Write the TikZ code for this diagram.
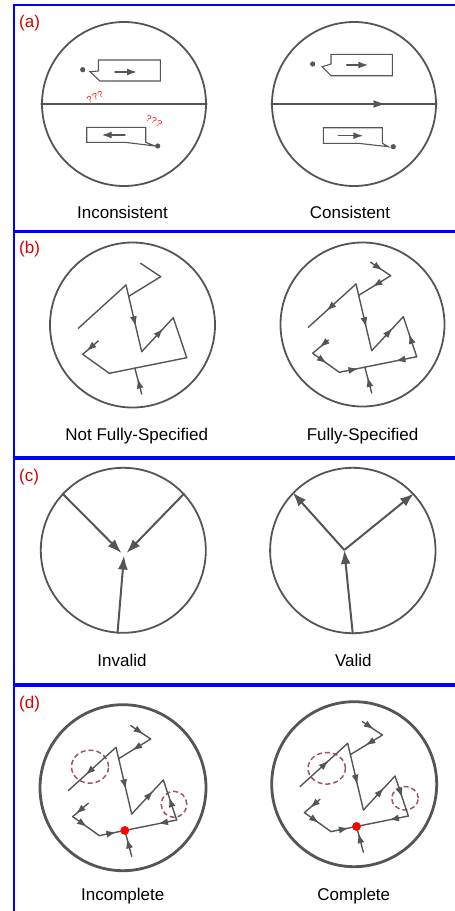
\documentclass[tikz,border=0pt]{standalone}
\usepackage{fontspec}
\newfontfamily\arial{Liberation Sans}
\usetikzlibrary{arrows.meta,decorations.markings,calc}
\definecolor{lg}{RGB}{85,85,85}
\definecolor{lblred}{RGB}{210,0,0}
\definecolor{dashc}{RGB}{160,80,120}
\definecolor{frameblue}{RGB}{0,0,255}
\newcommand\mkgraph[3]{%
  \begin{scope}[shift={(#2,#3)}]
    \coordinate (#1P1) at (8.2,-61.7);
    \coordinate (#1P2) at (28.2,-48.3);
    \coordinate (#1A) at (-6.5,-40);
    \coordinate (#1L) at (-54.2,3.3);
    \coordinate (#1V) at (9.2,26.7);
    \coordinate (#1R1) at (40.8,-7.3);
    \coordinate (#1R2) at (54.2,32.7);
    \coordinate (#1B1) at (-23.2,48.3);
    \coordinate (#1B2) at (-49.8,29.3);
    \coordinate (#1S) at (-34.2,16);
    \coordinate (#1T) at (9.2,69);
  \end{scope}
  \coordinate (#1P3) at ($(#1A)!0.17!(#1V)$);
  \coordinate (#1J) at ($(#1B1)!0.33!(#1R2)$);
}
\begin{document}
\begin{tikzpicture}[x=1pt,y=-1pt,
  frame/.style={draw=frameblue, line width=2pt},
  plab/.style={text=lblred, anchor=west, inner sep=0pt, font=\arial\fontsize{17}{20}\selectfont},
  capt/.style={anchor=base, inner sep=0pt, font=\arial\fontsize{17}{20}\selectfont},
  bigc/.style={circle, draw=lg, line width=1.8pt, minimum size=164pt, inner sep=0pt},
  bigcd/.style={circle, draw=lg, line width=2.8pt, minimum size=164pt, inner sep=0pt},
  ed/.style={lg, line width=1.4pt, line cap=round},
  boxl/.style={draw=lg, line width=1.1pt, line join=miter},
  qq/.style={text=red, inner sep=0pt, font=\arial\fontsize{9}{10}\selectfont\addfontfeatures{LetterSpace=10}},
  ma/.style={postaction={decorate, decoration={markings, mark=at position #1 with {\arrow{Latex[length=10pt,width=7pt]}}}}},
  mal/.style={postaction={decorate, decoration={markings, mark=at position #1 with {\arrow{Latex[length=12pt,width=8pt]}}}}},
  sar/.style={-{Latex[length=10pt,width=7pt]}},
  car/.style={lg, line width=2pt, -{Latex[length=14pt,width=10pt]}},
  dsh/.style={draw=dashc, line width=1.5pt, dash pattern=on 5pt off 3pt},
]
\fill[white] (0,0) rectangle (455,911);
\useasboundingbox (0,0) rectangle (455,911);
\clip (0,0) rectangle (455,911);

% frames
\draw[frame] (14,5.3) rectangle (470,231);
\draw[frame] (14,231.5) rectangle (470,456.7);
\draw[frame] (14,459.3) rectangle (470,683.5);
\draw[frame] (14,686) rectangle (470,930);
\node[plab] (la) at (19,22.7) {(a)};
\node[plab] (lb) at (19,249) {(b)};
\node[plab] (lc) at (19,476.7) {(c)};
\node[plab] (ld) at (19,704) {(d)};

% ---------- panel (a) ----------
\node[bigc] (aL) at (124,104) {};
\draw[ed] (aL.west) -- (aL.east);
\coordinate (aLd1) at (82.7,69.7);
\coordinate (aLd2) at (157.7,146);
\fill[lg] (aLd1) circle[radius=2.6pt];
\fill[lg] (aLd2) circle[radius=2.6pt];
\draw[boxl] (98.3,60) -- (160.3,60) -- (160.3,81) -- (100,81) -- (90,71.7) -- (98.3,71) -- cycle;
\coordinate (aLa1s) at (115,72); \coordinate (aLa1e) at (137,72);
\draw[ed, sar] (aLa1s) -- (aLa1e);
\draw[boxl] (86.7,127.3) -- (145.7,127.3) -- (145.7,142.3) -- (155,146) -- (125,142.3) -- (86.7,142.3) -- cycle;
\coordinate (aLa2s) at (125,135); \coordinate (aLa2e) at (101.7,135);
\draw[ed, sar] (aLa2s) -- (aLa2e);
\node[qq, rotate=25] (q1) at (95,97) {???};
\node[qq, rotate=-25] (q2) at (154,121) {???};
\node[capt] (tInc) at (122.5,218.3) {Inconsistent};

\node[bigc] (aR) at (354,104) {};
\draw[ed, mal=0.69] (aR.west) -- (aR.east);
\coordinate (aRd1) at (312.7,64);
\coordinate (aRd2) at (393.3,146.7);
\fill[lg] (aRd1) circle[radius=2.6pt];
\fill[lg] (aRd2) circle[radius=2.6pt];
\draw[boxl] (331,54.3) -- (392.3,54.3) -- (392.3,75.7) -- (331,75.7) -- (322,66.7) -- (331,64) -- cycle;
\coordinate (aRa1s) at (346.7,65); \coordinate (aRa1e) at (368.3,65);
\draw[ed, sar] (aRa1s) -- (aRa1e);
\draw[boxl] (323.3,127.7) -- (382.3,127.7) -- (382.3,143.3) -- (388.3,146.7) -- (358.3,143.3) -- (323.3,143.3) -- cycle;
\coordinate (aRa2s) at (338.3,135.7); \coordinate (aRa2e) at (363.3,135.7);
\draw[ed, sar] (aRa2s) -- (aRa2e);
\node[capt] (tCon) at (350,218.3) {Consistent};

% ---------- panel (b) ----------
\node[bigc, minimum size=165pt] (bL) at (132.5,325) {};
\mkgraph{bl-}{132.5}{325}
\draw[ed] (bl-P1) -- (bl-P2);
\draw[ed] (bl-P2) -- (bl-P3);
\draw[ed] (bl-A) -- (bl-L);
\draw[ed, ma=0.62] (bl-A) -- (bl-V);
\draw[ed, ma=0.68] (bl-V) -- (bl-R1);
\draw[ed] (bl-R2) -- (bl-R1);
\draw[ed] (bl-R2) -- (bl-J);
\draw[ed] (bl-B1) -- (bl-J);
\draw[ed] (bl-B2) -- (bl-B1);
\draw[ed, ma=0.75] (bl-S) -- (bl-B2);
\draw[ed, ma=0.6] (bl-T) -- (bl-J);
\node[capt] (tNFS) at (136.7,440) {Not Fully-Specified};

\node[bigc] (bR) at (362.5,324.5) {};
\mkgraph{br-}{362.5}{324}
\draw[ed, ma=0.6] (br-P1) -- (br-P2);
\draw[ed, ma=0.57] (br-P2) -- (br-P3);
\draw[ed, ma=0.62] (br-A) -- (br-L);
\draw[ed, ma=0.65] (br-A) -- (br-V);
\draw[ed, ma=0.66] (br-V) -- (br-R1);
\draw[ed, ma=0.57] (br-R2) -- (br-R1);
\draw[ed, ma=0.41] (br-R2) -- (br-J);
\draw[ed, ma=0.75] (br-B1) -- (br-J);
\draw[ed, ma=0.53] (br-B2) -- (br-B1);
\draw[ed, ma=0.55] (br-S) -- (br-B2);
\draw[ed, ma=0.62] (br-T) -- (br-J);
\node[capt] (tFS) at (362.5,440) {Fully-Specified};

% ---------- panel (c) ----------
\node[bigc, minimum size=165pt] (cL) at (123.3,550.3) {};
\coordinate (cLt1) at (121.5,553);
\coordinate (cLt2) at (126.5,553);
\coordinate (cLt3) at (124,555.5);
\draw[car] (cL.137) -- (cLt1);
\draw[car] (cL.43) -- (cLt2);
\draw[car] (cL.-94) -- (cLt3);
\node[capt] (tInv) at (122,666) {Invalid};

\node[bigc, minimum size=165.4pt] (cR) at (352.8,550.5) {};
\coordinate (cRj) at (344.3,550);
\draw[car] (cR.-90) -- (cRj);
\draw[car] (cRj) -- (cR.136);
\draw[car] (cRj) -- (cR.43.3);
\node[capt] (tVal) at (353.3,666) {Valid};

% ---------- panel (d) ----------
\node[bigcd, minimum size=166pt] (dL) at (123,787.7) {};
\mkgraph{dl-}{122.5}{787.3}
\coordinate (dLc1) at (90,766.7);
\coordinate (dLc2) at (174,804.3);
\draw[dsh] (dLc1) ellipse [x radius=18.5pt, y radius=16.5pt];
\draw[dsh] (dLc2) ellipse [x radius=12.8pt, y radius=13pt];
\draw[ed, ma=0.65] (dl-P1) -- (dl-P2);
\draw[ed, ma=0.58] (dl-P2) -- (dl-P3);
\draw[ed, ma=0.64] (dl-A) -- (dl-L);
\draw[ed, ma=0.63] (dl-A) -- (dl-V);
\draw[ed, ma=0.68] (dl-V) -- (dl-R1);
\draw[ed, ma=0.57] (dl-R2) -- (dl-R1);
\draw[ed, ma=0.36] (dl-R2) -- (dl-J);
\draw[ed, ma=0.67] (dl-B1) -- (dl-J);
\draw[ed, ma=0.54] (dl-B2) -- (dl-B1);
\draw[ed, ma=0.8] (dl-S) -- (dl-B2);
\draw[ed, ma=0.69] (dl-T) -- (dl-J);
\fill[red] (dl-J) circle[radius=4.4pt];
\node[capt] (tIncp) at (122.7,900) {Incomplete};

\node[bigcd, minimum size=165pt] (dR) at (354.2,784.2) {};
\mkgraph{dr-}{354.2}{783.3}
\coordinate (dRc1) at (326.7,768.3);
\coordinate (dRc2) at (405,798.3);
\draw[dsh] (dRc1) ellipse [x radius=18.7pt, y radius=15.8pt];
\draw[dsh] (dRc2) ellipse [x radius=13.3pt, y radius=11.7pt];
\draw[ed, ma=0.57] (dr-P1) -- (dr-P2);
\draw[ed, ma=0.53] (dr-P2) -- (dr-P3);
\draw[ed, ma=0.6] (dr-L) -- (dr-A);
\draw[ed, ma=0.62] (dr-A) -- (dr-V);
\draw[ed, ma=0.65] (dr-V) -- (dr-R1);
\draw[ed, ma=0.54] (dr-R1) -- (dr-R2);
\draw[ed, ma=0.375] (dr-R2) -- (dr-J);
\draw[ed, ma=0.7] (dr-B1) -- (dr-J);
\draw[ed, ma=0.55] (dr-B2) -- (dr-B1);
\draw[ed, ma=0.64] (dr-S) -- (dr-B2);
\draw[ed, ma=0.74] (dr-T) -- (dr-J);
\fill[red] (dr-J) circle[radius=4.4pt];
\node[capt] (tCmp) at (353.8,900) {Complete};
\end{tikzpicture}
\end{document}
